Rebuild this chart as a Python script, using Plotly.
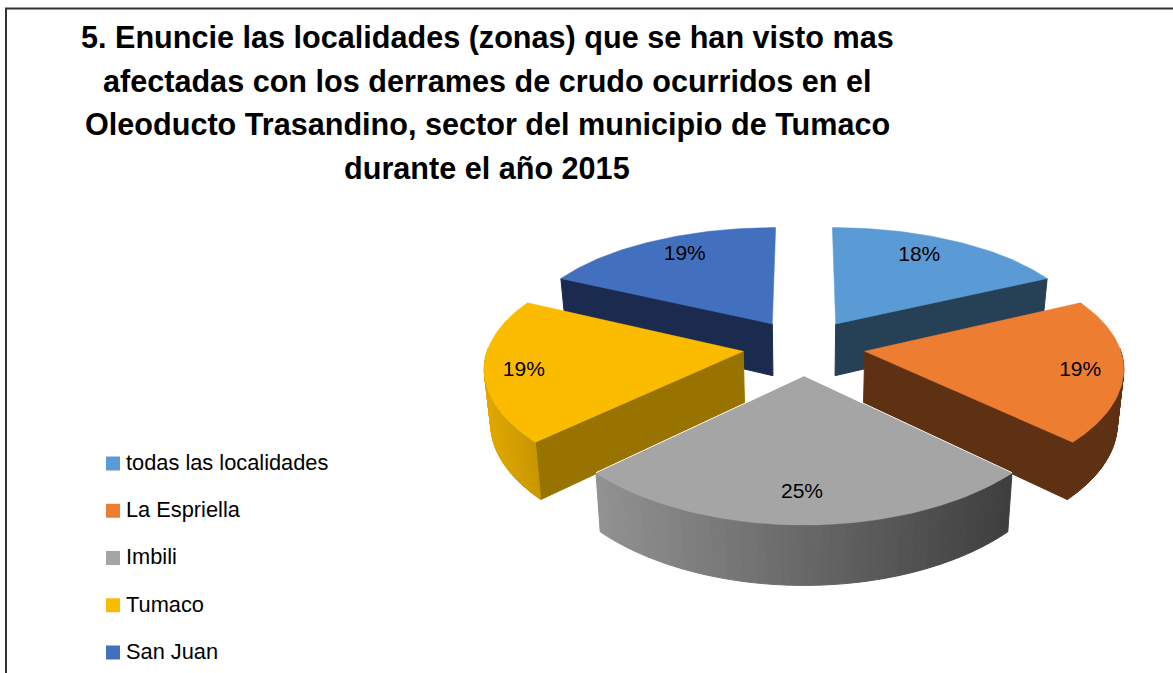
import math
import plotly.graph_objects as go

# --- data
categories = ["todas las localidades", "La Espriella", "Imbili", "Tumaco", "San Juan"]
values = [17.8, 19.3, 25.8, 19.3, 17.8]
percent_labels = ["18%", "19%", "25%", "19%", "19%"]
title_lines = [
    "5. Enuncie las localidades (zonas) que se han visto mas",
    "afectadas con los derrames de crudo ocurridos en el",
    "Oleoducto Trasandino, sector del municipio de Tumaco",
    "durante el año 2015",
]
top_colors = ["#5b9bd5", "#ed7d31", "#a5a5a5", "#fbbc00", "#4270bf"]
cut_colors = ["#264056", "#5f3113", "#636363", "#997300", "#1a2b4f"]
side_left = [(38, 64, 86), (95, 49, 19), (146, 146, 146), (224, 168, 0), (26, 43, 79)]
side_right = [(38, 64, 86), (95, 49, 19), (62, 62, 62), (200, 150, 0), (26, 43, 79)]
label_nudge = [(-12, 0), (9, 5), (-2, 2), (-13, 5), (8, -1)]

# --- projection of the pie disc
CX, CY, R, A, KX, KY, EXPLODE = 804, 347, 255, 117, 0.12, 0.149, 0.24
W, H = 1173, 673


def top_pt(u, v):
    return CX + R * u / (1 + KX * v), CY - A * v / (1 + KY * v)


def bot_pt(u, v):
    x, y = top_pt(u, v)
    return CX + (x - CX) * 0.98, y + 53 - 6 * v


def poly(pts, color, lw=1):
    return go.Scatter(
        x=[p[0] for p in pts] + [pts[0][0]],
        y=[p[1] for p in pts] + [pts[0][1]],
        mode="lines", fill="toself", fillcolor=color,
        line=dict(color=color, width=lw),
        hoverinfo="skip", showlegend=False,
    )


fig = go.Figure()
total = sum(values)
spans = []
acc = 0.0
for val in values:
    a0 = acc / total * 2 * math.pi
    acc += val
    a1 = acc / total * 2 * math.pi
    spans.append((a0, a1))

label_traces = []
for i in [0, 4, 1, 3, 2]:  # back-to-front painter's order
    a0, a1 = spans[i]
    mid = (a0 + a1) / 2
    ou, ov = EXPLODE * math.sin(mid), EXPLODE * math.cos(mid)
    n = 60
    angs = [a0 + (a1 - a0) * j / n for j in range(n + 1)]
    arc = [(ou + math.sin(t), ov + math.cos(t)) for t in angs]
    tip = (ou, ov)

    # cut faces that look towards the viewer
    if math.cos(a1 + math.pi / 2) < -0.01:
        e = arc[-1]
        fig.add_trace(poly([top_pt(*tip), top_pt(*e), bot_pt(*e), bot_pt(*tip)], cut_colors[i]))
    if math.cos(a0 - math.pi / 2) < -0.01:
        e = arc[0]
        fig.add_trace(poly([top_pt(*tip), top_pt(*e), bot_pt(*e), bot_pt(*tip)], cut_colors[i]))

    # outer rim, in shaded strips
    xs = [top_pt(*p)[0] for p in arc]
    xmin, xmax = min(xs), max(xs)
    for j in range(n):
        if math.cos((angs[j] + angs[j + 1]) / 2) >= 0.02:
            continue
        p, q = arc[j], arc[j + 1]
        f = ((xs[j] + xs[j + 1]) / 2 - xmin) / max(xmax - xmin, 1)
        c = [round(side_left[i][k] + (side_right[i][k] - side_left[i][k]) * f) for k in range(3)]
        fig.add_trace(poly([top_pt(*p), top_pt(*q), bot_pt(*q), bot_pt(*p)], "rgb(%d,%d,%d)" % tuple(c)))

    # top face
    fig.add_trace(poly([top_pt(*tip)] + [top_pt(*p) for p in arc], top_colors[i], lw=0.5))
    if i == 2:
        for e in (arc[0], arc[-1]):
            a, b = top_pt(*tip), top_pt(*e)
            fig.add_trace(go.Scatter(x=[a[0], b[0]], y=[a[1] - 0.5, b[1] - 0.5], mode="lines",
                                     line=dict(color="white", width=1), hoverinfo="skip", showlegend=False))

    lu, lv = ou + 0.8 * math.sin(mid), ov + 0.8 * math.cos(mid)
    lx, ly = top_pt(lu, lv)
    label_traces.append(go.Scatter(
        x=[lx + label_nudge[i][0]], y=[ly + label_nudge[i][1]], mode="text", text=[percent_labels[i]],
        textposition="middle center", textfont=dict(family="Liberation Sans", size=21, color="#000000"),
        hoverinfo="skip", showlegend=False,
    ))
fig.add_traces(label_traces)

# legend: swatch plus text, one entry per category
for i, name in enumerate(categories):
    y = 463.5 + 47.25 * i
    fig.add_trace(go.Scatter(
        x=[113], y=[y], mode="markers",
        marker=dict(symbol="square", size=14, color=top_colors[i]),
        hoverinfo="skip", showlegend=False,
    ))
    fig.add_trace(go.Scatter(
        x=[126], y=[y + 1], mode="text", text=[name], textposition="middle right",
        textfont=dict(family="Liberation Sans", size=21.8, color="#000000"),
        hoverinfo="skip", showlegend=False,
    ))

annotations = [
    dict(text=line, x=487, y=37 + 43.5 * i, xref="x", yref="y", xanchor="center", yanchor="middle",
         showarrow=False, font=dict(family="Liberation Sans", size=30.6, color="#000000", weight="bold"))
    for i, line in enumerate(title_lines)
]

fig.update_layout(
    width=W, height=H, margin=dict(l=0, r=0, t=0, b=0),
    paper_bgcolor="white", plot_bgcolor="white",
    xaxis=dict(range=[0, W], visible=False, fixedrange=True),
    yaxis=dict(range=[H, 0], visible=False, fixedrange=True),
    annotations=annotations,
    shapes=[dict(type="rect", xref="x", yref="y", x0=6, y0=8.5, x1=1180, y1=690,
                 line=dict(color="#333333", width=2), fillcolor="rgba(0,0,0,0)", layer="below")],
    showlegend=False,
)

fig.write_html("out.html", config=dict(displayModeBar=False),
               post_script="document.body.style.margin='0';")
